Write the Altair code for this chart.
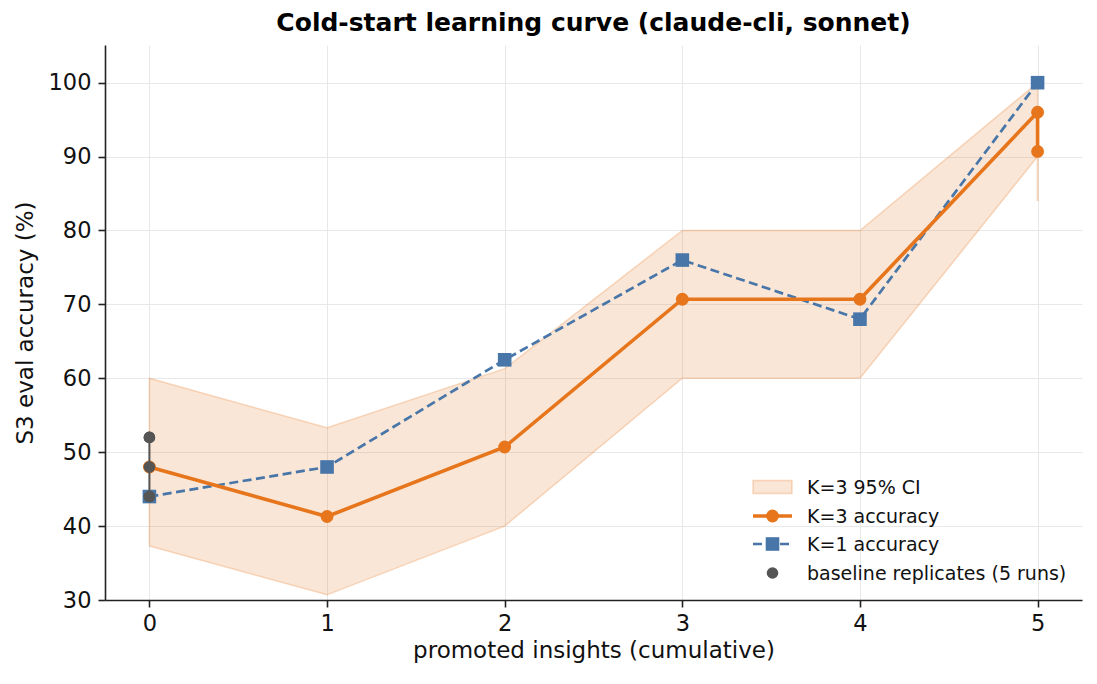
import altair as alt
import pandas as pd

# ---- data ----
steps = [0, 1, 2, 3, 4, 5]
k3_accuracy = [48.0, 41.3, 50.7, 70.7, 70.7, 96.0]
k3_extra_x = [5]
k3_extra_y = [90.7]
k3_ci_lo = [37.3, 30.7, 40.0, 60.0, 60.0, 90.0]
k3_ci_hi = [60.0, 53.3, 61.3, 80.0, 80.0, 100.0]
k1_accuracy = [44.0, 48.0, 62.5, 76.0, 68.0, 100.0]
baseline_runs = [44.0, 44.0, 48.0, 52.0, 52.0]
k3_last_err = [84.0, 90.7]

ORANGE = "#E6751C"
BLUE = "#4876A8"
GRAY = "#555555"
FONT = "DejaVu Sans"

band_df = pd.DataFrame({"x": steps, "lo": k3_ci_lo, "hi": k3_ci_hi})
k3_df = pd.DataFrame({
    "x": steps + k3_extra_x,
    "y": k3_accuracy + k3_extra_y,
    "o": list(range(len(steps) + len(k3_extra_x))),
})
k1_df = pd.DataFrame({"x": steps, "y": k1_accuracy})
base_df = pd.DataFrame({"x": [0] * len(baseline_runs), "y": baseline_runs})
base_rng = pd.DataFrame({"x": [0], "lo": [min(baseline_runs)], "hi": [max(baseline_runs)]})
err_df = pd.DataFrame({"x": [5], "lo": [k3_last_err[0]], "hi": [k3_last_err[1]]})

xscale = alt.Scale(domain=[-0.25, 5.25], nice=False, zero=False)
yscale = alt.Scale(domain=[30, 105.1], nice=False, zero=False)

X = alt.X("x:Q", scale=xscale,
          axis=alt.Axis(values=steps, format="d", title="promoted insights (cumulative)"))
Y_AX = alt.Axis(values=list(range(30, 101, 10)), title="S3 eval accuracy (%)")

CIRC = 165
SQ = 185
GCIRC = 135
LW_O = 3.6
LW_B = 2.7
DASH = [9, 4.5]

band = alt.Chart(band_df).mark_area(
    color=ORANGE, fillOpacity=0.18, stroke=ORANGE, strokeOpacity=0.25, strokeWidth=1.5
).encode(x=X, y=alt.Y("lo:Q", scale=yscale, axis=Y_AX), y2="hi:Q")

err = alt.Chart(err_df).mark_rule(color=ORANGE, opacity=0.3, strokeWidth=2).encode(
    x="x:Q", y="lo:Q", y2="hi:Q")

k1_line = alt.Chart(k1_df).mark_line(color=BLUE, strokeWidth=LW_B, strokeDash=DASH).encode(
    x="x:Q", y="y:Q")
k1_pts = alt.Chart(k1_df).mark_point(shape="square", filled=True, color=BLUE, size=SQ, opacity=1).encode(
    x="x:Q", y="y:Q")

k3_line = alt.Chart(k3_df).mark_line(color=ORANGE, strokeWidth=LW_O).encode(
    x="x:Q", y="y:Q", order="o:Q")
k3_pts = alt.Chart(k3_df).mark_point(shape="circle", filled=True, color=ORANGE, size=CIRC, opacity=1).encode(
    x="x:Q", y="y:Q")

base_rule = alt.Chart(base_rng).mark_rule(color=GRAY, strokeWidth=2).encode(
    x="x:Q", y="lo:Q", y2="hi:Q")
base_pts = alt.Chart(base_df).mark_point(shape="circle", filled=True, color=GRAY, size=GCIRC, opacity=1).encode(
    x="x:Q", y="y:Q")

# ---- manual legend (pixel positions inside the plot area) ----
one = pd.DataFrame({"a": [0]})
LX0, LX1, LXC, LTX = 648, 687, 667.5, 702
ROWS = [442, 471, 499, 528]
LFS = 19

leg = []
leg.append(alt.Chart(one).mark_rect(color=ORANGE, fillOpacity=0.18, stroke=ORANGE,
                                    strokeOpacity=0.25, strokeWidth=1.5).encode(
    x=alt.value(LX0), x2=alt.value(LX1), y=alt.value(ROWS[0] - 6.5), y2=alt.value(ROWS[0] + 6.5)))
leg.append(alt.Chart(one).mark_rule(color=ORANGE, strokeWidth=LW_O).encode(
    x=alt.value(LX0), x2=alt.value(LX1), y=alt.value(ROWS[1])))
leg.append(alt.Chart(one).mark_point(shape="circle", filled=True, color=ORANGE, size=CIRC, opacity=1).encode(
    x=alt.value(LXC), y=alt.value(ROWS[1])))
leg.append(alt.Chart(one).mark_rule(color=BLUE, strokeWidth=LW_B, strokeDash=DASH).encode(
    x=alt.value(LX0), x2=alt.value(LX1), y=alt.value(ROWS[2])))
leg.append(alt.Chart(one).mark_point(shape="square", filled=True, color=BLUE, size=SQ, opacity=1).encode(
    x=alt.value(LXC), y=alt.value(ROWS[2])))
leg.append(alt.Chart(one).mark_point(shape="circle", filled=True, color=GRAY, size=GCIRC, opacity=1).encode(
    x=alt.value(LXC), y=alt.value(ROWS[3])))
labels = ["K=3 95% CI", "K=3 accuracy", "K=1 accuracy", "baseline replicates (5 runs)"]
for lab, ry in zip(labels, ROWS):
    leg.append(alt.Chart(one).mark_text(align="left", baseline="middle", font=FONT,
                                        fontSize=LFS, color="#111111").encode(
        x=alt.value(LTX), y=alt.value(ry + 1), text=alt.value(lab)))

chart = alt.layer(band, err, k1_line, k1_pts, k3_line, k3_pts, base_rule, base_pts, *leg).properties(
    width=977, height=555,
    autosize=alt.AutoSizeParams(type="none"),
    padding={"left": 105, "top": 45, "right": 15, "bottom": 84},
    title=alt.TitleParams("Cold-start learning curve (claude-cli, sonnet)", font=FONT,
                          fontSize=25, fontWeight="bold", color="#000000",
                          anchor="middle", offset=9),
).configure_view(stroke=None).configure_axis(
    labelFont=FONT, titleFont=FONT, labelFontSize=22.5, titleFontSize=23,
    labelColor="#111111", titleColor="#111111", titleFontWeight="normal",
    domainColor="#222222", domainWidth=1.6, tickColor="#222222", tickWidth=1.6, tickSize=7,
    labelPadding=5, gridColor="#e8e8e8", gridWidth=1,
).configure_axisX(titlePadding=5).configure_axisY(titlePadding=11, labelPadding=7)

chart.save("out.html", embed_options={"renderer": "svg", "actions": False})
